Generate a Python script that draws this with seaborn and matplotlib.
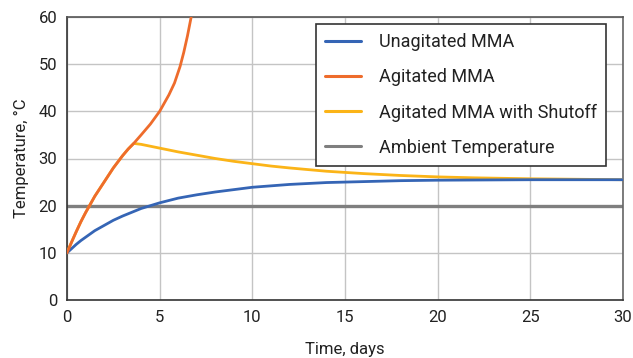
import pandas as pd
import seaborn as sns
import matplotlib.pyplot as plt

# values
t_unagitated = [0, 0.25, 0.5, 0.75, 1, 1.5, 2, 2.5, 3, 3.5, 4, 4.5, 5, 6, 7, 8, 9, 10, 12, 14, 16, 18, 20, 25, 30]
temp_unagitated = [10, 10.9, 11.8, 12.6, 13.3, 14.7, 15.8, 16.9, 17.8, 18.6, 19.4, 20.0, 20.6, 21.6, 22.3, 22.9, 23.4,
                   23.9, 24.5, 24.9, 25.1, 25.3, 25.4, 25.5, 25.5]

t_agitated = [0, 0.25, 0.5, 0.75, 1, 1.5, 2, 2.5, 3, 3.3, 3.6, 4, 4.5, 5, 5.5, 5.8, 6.1, 6.3, 6.5, 6.65, 6.8]
temp_agitated = [10, 12.3, 14.5, 16.6, 18.5, 22, 25, 28, 30.6, 32, 33.2, 35, 37.3, 40, 43.5, 46, 49.5, 52.5, 56, 59, 62]

t_shutoff = [0, 0.25, 0.5, 0.75, 1, 1.5, 2, 2.5, 3, 3.3, 3.6, 4, 5, 6, 7, 8, 9, 10, 11, 12, 14, 16, 18, 20, 22, 25, 30]
temp_shutoff = [10, 12.3, 14.5, 16.6, 18.5, 22, 25, 28, 30.6, 32, 33.2, 33.0, 32.2, 31.4, 30.7, 30.0, 29.4, 28.9,
                 28.4, 28.0, 27.3, 26.8, 26.4, 26.1, 25.9, 25.7, 25.5]

t_ambient = [0, 30]
temp_ambient = [20, 20]

series_names = ["Unagitated MMA", "Agitated MMA", "Agitated MMA with Shutoff", "Ambient Temperature"]
colors = ["#3565b5", "#ee6c2c", "#fbb418", "#7f7f7f"]

frames = []
for name, t, v in zip(series_names,
                      [t_unagitated, t_agitated, t_shutoff, t_ambient],
                      [temp_unagitated, temp_agitated, temp_shutoff, temp_ambient]):
    frames.append(pd.DataFrame({"Time": t, "Temp": v, "Series": name}))
df = pd.concat(frames, ignore_index=True)

sns.set_style("white")
plt.rcParams["font.family"] = ["Roboto", "DejaVu Sans"]

fig = plt.figure(figsize=(6.33, 3.58), dpi=100)
ax = fig.add_axes([67 / 633, 1 - 300 / 358, 556 / 633, 283 / 358])

# ambient first so the others draw on top
sns.lineplot(data=df[df.Series == "Ambient Temperature"], x="Time", y="Temp",
             color=colors[3], linewidth=2.4, ax=ax, legend=False, zorder=2)
for name, c in zip(series_names[:3], colors[:3]):
    if name == "Agitated MMA with Shutoff":
        z = 3
    else:
        z = 4
    sns.lineplot(data=df[df.Series == name], x="Time", y="Temp", color=c,
                 linewidth=2, ax=ax, legend=False, zorder=z, sort=False)

ax.set_xlim(0, 30)
ax.set_ylim(0, 60)
ax.set_xticks(range(0, 31, 5))
ax.set_yticks(range(0, 61, 10))
ax.grid(True, color="#c4c4c4", linewidth=1)
ax.set_axisbelow(True)
for side in ["left", "bottom", "top", "right"]:
    ax.spines[side].set_color("#333333")
    ax.spines[side].set_linewidth(1.2)
ax.spines["right"].set_color("#666666")
ax.spines["top"].set_color("#555555")
ax.tick_params(labelsize=12, colors="#222222", length=0, pad=7)

ax.set_xlabel("Time, days", fontsize=12, color="#222222", labelpad=12.5)
ax.set_ylabel("Temperature, °C", fontsize=12, color="#222222", labelpad=7)

handles = [plt.Line2D([], [], color=c, linewidth=2.2) for c in colors]
leg = ax.legend(handles, series_names, loc="upper right", bbox_to_anchor=(0.969, 0.975),
                borderaxespad=0, fontsize=13, frameon=True, fancybox=False,
                labelspacing=0.95, handlelength=2.0, handletextpad=1.0,
                borderpad=0.5)
leg.get_frame().set_edgecolor("#333333")
leg.get_frame().set_linewidth(1.2)
leg.get_frame().set_alpha(1)
for txt in leg.get_texts():
    txt.set_color("#222222")

plt.savefig("out.png", dpi=100)
